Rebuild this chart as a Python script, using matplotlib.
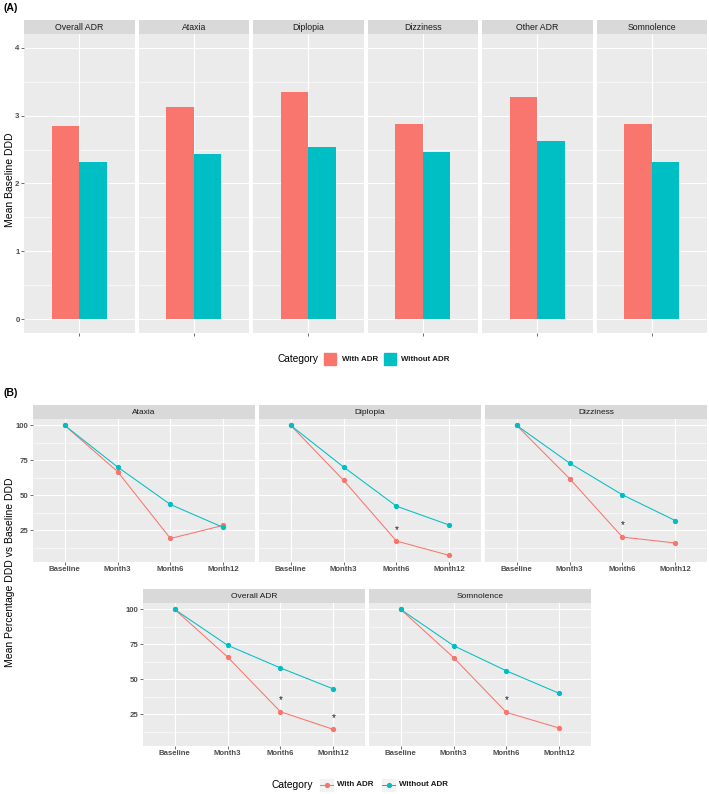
import matplotlib
matplotlib.use("Agg")
import matplotlib.pyplot as plt
from matplotlib.patches import Rectangle
from matplotlib.lines import Line2D

W, H = 709, 794
RED = "#F8766D"
TEAL = "#00BFC4"

# (A) mean baseline DDD
ADR_TYPES = ["Overall ADR", "Ataxia", "Diplopia", "Dizziness", "Other ADR", "Somnolence"]
BASE_WITH = [2.85, 3.13, 3.34, 2.87, 3.28, 2.87]
BASE_WITHOUT = [2.31, 2.43, 2.53, 2.46, 2.62, 2.31]

# (B) mean percentage DDD vs baseline
TIMEPOINTS = ["Baseline", "Month3", "Month6", "Month12"]
ATAXIA_WITH = [100, 67, 19.2, 28.6]
ATAXIA_WITHOUT = [100, 70.3, 43.5, 27.1]
DIPLOPIA_WITH = [100, 60.8, 17.4, 7.1]
DIPLOPIA_WITHOUT = [100, 70.3, 42.3, 28.8]
DIZZINESS_WITH = [100, 62.0, 20.2, 16.0]
DIZZINESS_WITHOUT = [100, 73.1, 50.4, 32.0]
OVERALL_WITH = [100, 66.0, 26.9, 14.3]
OVERALL_WITHOUT = [100, 74.4, 58.2, 43.2]
SOMNOLENCE_WITH = [100, 65.6, 26.4, 15.2]
SOMNOLENCE_WITHOUT = [100, 74.1, 56.1, 40.0]

# significance markers
STAR_FACET = ["Diplopia", "Dizziness", "Overall ADR", "Overall ADR", "Somnolence"]
STAR_TIME = ["Month6", "Month6", "Month6", "Month12", "Month6"]
STAR_Y = [25.5, 28.5, 35.0, 22.5, 35.0]

plt.rcParams["font.family"] = ["Liberation Sans", "DejaVu Sans"]


def px_axes(fig, x0, y0, x1, y1):
    return fig.add_axes([x0 / W, 1 - y1 / H, (x1 - x0) / W, (y1 - y0) / H])


def add_strip(fig, x0, y0, x1, y1, label, size):
    ax = px_axes(fig, x0, y0, x1, y1)
    ax.set_facecolor("#D9D9D9")
    ax.set_xticks([])
    ax.set_yticks([])
    for s in ax.spines.values():
        s.set_visible(False)
    ax.text(0.5, 0.5, label, ha="center", va="center", transform=ax.transAxes,
            fontsize=size, color="#1A1A1A")


def style_panel(ax, show_y):
    ax.set_facecolor("#EBEBEB")
    for s in ax.spines.values():
        s.set_visible(False)
    ax.grid(True, which="major", color="white", linewidth=0.8)
    ax.grid(True, which="minor", axis="y", color="white", linewidth=0.4)
    ax.set_axisbelow(True)
    ax.tick_params(which="major", length=2, width=0.5, color="#333333", pad=1.2,
                   labelsize=5.6, labelcolor="#4D4D4D")
    ax.tick_params(which="minor", length=0)
    for lab in ax.get_xticklabels() + ax.get_yticklabels():
        lab.set_fontweight("bold")
    if not show_y:
        ax.tick_params(axis="y", which="both", left=False, labelleft=False)


def fig_text(x, y, s, **kw):
    fig.text(x / W, 1 - y / H, s, **kw)


fig = plt.figure(figsize=(W / 100, H / 100), dpi=100)

# ---------------- (A) ----------------
fig_text(3, 8, "(A)", fontsize=7.6, fontweight="bold", va="center")
a_left, a_right, gap = 24, 707, 4
a_w = (a_right - a_left - gap * (len(ADR_TYPES) - 1)) / len(ADR_TYPES)
for i, name in enumerate(ADR_TYPES):
    x0 = a_left + i * (a_w + gap)
    add_strip(fig, x0, 20, x0 + a_w, 34, name, 6.3)
    ax = px_axes(fig, x0, 34, x0 + a_w, 333)
    ax.bar([-0.15], [BASE_WITH[i]], width=0.3, color=RED)
    ax.bar([0.15], [BASE_WITHOUT[i]], width=0.3, color=TEAL)
    ax.set_xlim(-0.6, 0.6)
    ax.set_ylim(-0.2, 4.2)
    ax.set_xticks([0])
    ax.set_xticklabels([""])
    ax.set_yticks([0, 1, 2, 3, 4])
    ax.set_yticks([0.5, 1.5, 2.5, 3.5], minor=True)
    style_panel(ax, i == 0)
    ax.grid(False, axis="x", which="minor")

fig_text(10, 180, "Mean Baseline DDD", rotation=90, fontsize=7.5, ha="center", va="center")

# legend A
fig_text(277, 359, "Category", fontsize=7.3, va="center")
fig.add_artist(Rectangle((324 / W, 1 - 365 / H), 12 / W, 12 / H, color=RED,
                         transform=fig.transFigure))
fig_text(342, 359, "With ADR", fontsize=5.7, fontweight="bold", color="#1A1A1A", va="center")
fig.add_artist(Rectangle((384 / W, 1 - 365 / H), 12 / W, 12 / H, color=TEAL,
                         transform=fig.transFigure))
fig_text(401, 359, "Without ADR", fontsize=5.7, fontweight="bold", color="#1A1A1A", va="center")

# ---------------- (B) ----------------
fig_text(3, 393, "(B)", fontsize=7.6, fontweight="bold", va="center")

series = {
    "Ataxia": (ATAXIA_WITH, ATAXIA_WITHOUT),
    "Diplopia": (DIPLOPIA_WITH, DIPLOPIA_WITHOUT),
    "Dizziness": (DIZZINESS_WITH, DIZZINESS_WITHOUT),
    "Overall ADR": (OVERALL_WITH, OVERALL_WITHOUT),
    "Somnolence": (SOMNOLENCE_WITH, SOMNOLENCE_WITHOUT),
}
layout = [
    ("Ataxia", 33, 255, 405, 419, 562, True),
    ("Diplopia", 259, 481, 405, 419, 562, False),
    ("Dizziness", 485, 707, 405, 419, 562, False),
    ("Overall ADR", 143, 365, 589, 603, 746, True),
    ("Somnolence", 369, 591, 589, 603, 746, False),
]
xs = list(range(len(TIMEPOINTS)))
for name, x0, x1, sy, py0, py1, show_y in layout:
    add_strip(fig, x0, sy, x1, py0, name, 6.0)
    ax = px_axes(fig, x0, py0, x1, py1)
    with_vals, without_vals = series[name]
    ax.plot(xs, with_vals, color=RED, linewidth=0.75, marker="o", markersize=2.8)
    ax.plot(xs, without_vals, color=TEAL, linewidth=0.75, marker="o", markersize=2.8)
    for f, t, y in zip(STAR_FACET, STAR_TIME, STAR_Y):
        if f == name:
            ax.text(TIMEPOINTS.index(t), y, "*", ha="center", va="center",
                    fontsize=7, color="#1A1A1A")
    ax.set_xlim(-0.6, len(TIMEPOINTS) - 0.4)
    ax.set_ylim(2.4, 104.6)
    ax.set_xticks(xs)
    ax.set_xticklabels(TIMEPOINTS)
    ax.set_yticks([25, 50, 75, 100])
    ax.set_yticks([12.5, 37.5, 62.5, 87.5], minor=True)
    style_panel(ax, show_y)

fig_text(10, 572, "Mean Percentage DDD vs Baseline DDD", rotation=90, fontsize=7.5,
         ha="center", va="center")

# legend B
fig_text(272, 785, "Category", fontsize=7.4, va="center")
for kx, col in [(320, RED), (382, TEAL)]:
    fig.add_artist(Rectangle((kx / W, 1 - 791 / H), 13 / W, 12 / H, color="#F2F2F2",
                             transform=fig.transFigure))
    fig.add_artist(Line2D([kx / W, (kx + 13) / W], [1 - 785 / H, 1 - 785 / H], color=col,
                          linewidth=0.75, transform=fig.transFigure))
    fig.add_artist(Line2D([(kx + 6.5) / W], [1 - 785 / H], color=col, marker="o",
                          markersize=2.8, linestyle="none", transform=fig.transFigure))
fig_text(337, 785, "With ADR", fontsize=5.8, fontweight="bold", color="#1A1A1A", va="center")
fig_text(399, 785, "Without ADR", fontsize=5.8, fontweight="bold", color="#1A1A1A", va="center")

fig.savefig("out.png", dpi=100)
